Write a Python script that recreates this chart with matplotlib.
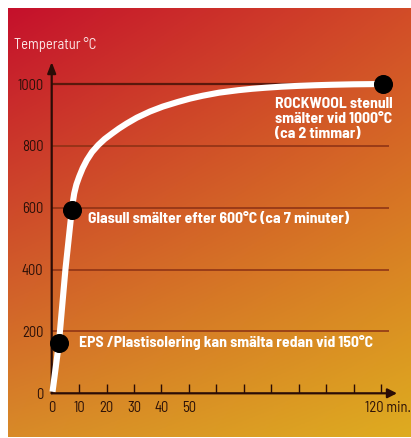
import numpy as np
import matplotlib
matplotlib.use("Agg")
import matplotlib.pyplot as plt
from matplotlib import font_manager
from matplotlib.colors import to_rgb
import matplotlib.transforms as mtransforms

# ---- data ----
curve_minutes = [0.3, 2.6, 5.0, 7.4, 8.2, 9.0, 10.0, 11.3, 12.8, 14.7, 17.0, 19.3, 22.0, 24.5, 27.3, 31.0,
                 35.8, 40.5, 46.0, 50.5, 55.0, 61.0, 68.0, 73.0, 78.0, 84.0, 90.0, 96.0, 102.0, 110.0, 121.0]
curve_temp = [5, 160, 400, 600, 646, 675, 700, 728, 754, 780, 803, 822, 840, 856, 872, 891,
              911, 927, 942, 953, 962, 972, 980, 984.5, 988, 991.5, 994, 996, 997.5, 999, 1000]
dot_minutes = [2.66, 7.4, 120.8]
dot_temp = [164, 592, 1000]
y_ticks = [0, 200, 400, 600, 800, 1000]
grid_levels = [200, 400, 600, 800]
x_tick_positions = [0, 10, 20, 30, 40, 50, 60, 70, 80, 90, 100, 110, 120]
x_tick_labels = ["0", "10", "20", "30", "40", "50", "", "", "", "", "", "", "120 min."]
labels = [
    "EPS /Plastisolering kan smälta redan vid 150°C",
    "Glasull smälter efter 600°C (ca 7 minuter)",
    "ROCKWOOL stenull\nsmälter vid 1000°C\n(ca 2 timmar)",
]
label_pos = [(10.1, 164), (13.1, 563), (81.4, 886)]
y_title = "Temperatur °C"

# ---- font ----
names = {f.name for f in font_manager.fontManager.ttflist}
FAM = "Barlow Semi Condensed" if "Barlow Semi Condensed" in names else "Liberation Sans"
FS = 10.5
FSB = 11.3
plt.rcParams['font.family'] = [FAM, 'DejaVu Sans']

W, H = 411, 438
fig = plt.figure(figsize=(W / 100, H / 100), dpi=100)
fig.patch.set_facecolor("white")

# ---- gradient background ----
bg = fig.add_axes([8 / W, 1 / H, (W - 8) / W, (H - 9) / H])
bg.set_axis_off()
tl = np.array(to_rgb("#c5102c"))
tr = np.array(to_rgb("#d24c28"))
bl = np.array(to_rgb("#d88a28"))
br = np.array(to_rgb("#deac20"))
ny, nx = 200, 200
u = np.linspace(0, 1, nx)[None, :, None]
v = np.linspace(0, 1, ny)[:, None, None]
img = (1 - v) * ((1 - u) * tl + u * tr) + v * ((1 - u) * bl + u * br)
bg.imshow(img, aspect="auto", extent=[0, 1, 0, 1], origin="upper")
bg.set_xlim(0, 1)
bg.set_ylim(0, 1)

# ---- main axes ----
x0px, y0px = 51.7, 393.3
pxx, pxy = 2.744, 0.3093
xmax = (397 - x0px) / pxx
ymax = (y0px - 62) / pxy
ax = fig.add_axes([x0px / W, (H - y0px) / H, (397 - x0px) / W, (y0px - 62) / H])
ax.set_facecolor("none")
ax.set_xlim(0, xmax)
ax.set_ylim(0, ymax)
for s in ax.spines.values():
    s.set_visible(False)

axis_col = "#2a0c06"
ax.hlines(grid_levels, 0, 123, colors="#8a3014", lw=1.1, zorder=1)
ax.hlines([1000], 0, 123, colors="#5a180c", lw=1.6, zorder=1)

ax.annotate("", xy=(0, ymax), xytext=(0, 0), xycoords="data",
            arrowprops=dict(arrowstyle="-|>,head_length=0.65,head_width=0.25", color=axis_col, lw=1.6,
                            shrinkA=0, shrinkB=0), annotation_clip=False, zorder=2)
ax.annotate("", xy=(xmax, 0), xytext=(0, 0), xycoords="data",
            arrowprops=dict(arrowstyle="-|>,head_length=0.55,head_width=0.28", color=axis_col, lw=1.6,
                            shrinkA=0, shrinkB=0), annotation_clip=False, zorder=2)

ax.set_xticks(x_tick_positions)
ax.set_xticklabels(x_tick_labels)
ax.tick_params(axis="x", direction="in", length=6.7, width=1.0, color=axis_col, pad=5.5,
               labelsize=FS, labelcolor="#2a1008")
lbls = ax.get_xticklabels()
offset = mtransforms.ScaledTranslation(7 / 100, 0, fig.dpi_scale_trans)
lbls[-1].set_transform(lbls[-1].get_transform() + offset)
ax.set_yticks(y_ticks)
ax.set_yticklabels([str(v) for v in y_ticks])
ax.tick_params(axis="y", length=0, pad=6, labelsize=FS, labelcolor="#2a1008")

ax.plot(curve_minutes, curve_temp, color="white", lw=4.4, solid_capstyle="butt",
        solid_joinstyle="round", zorder=3, clip_on=False)
ax.plot(dot_minutes, dot_temp, "o", color="black", ms=12.7, zorder=4, clip_on=False)

for txt, (tx, ty) in zip(labels, label_pos):
    ax.text(tx, ty, txt, color="white", fontsize=FSB, fontweight="bold", ha="left", va="center",
            linespacing=1.08, zorder=5)

fig.text(14 / W, 1 - 45 / H, y_title, color="#fbe6e6", fontsize=FS, ha="left", va="center")

fig.savefig("out.png", dpi=100)
